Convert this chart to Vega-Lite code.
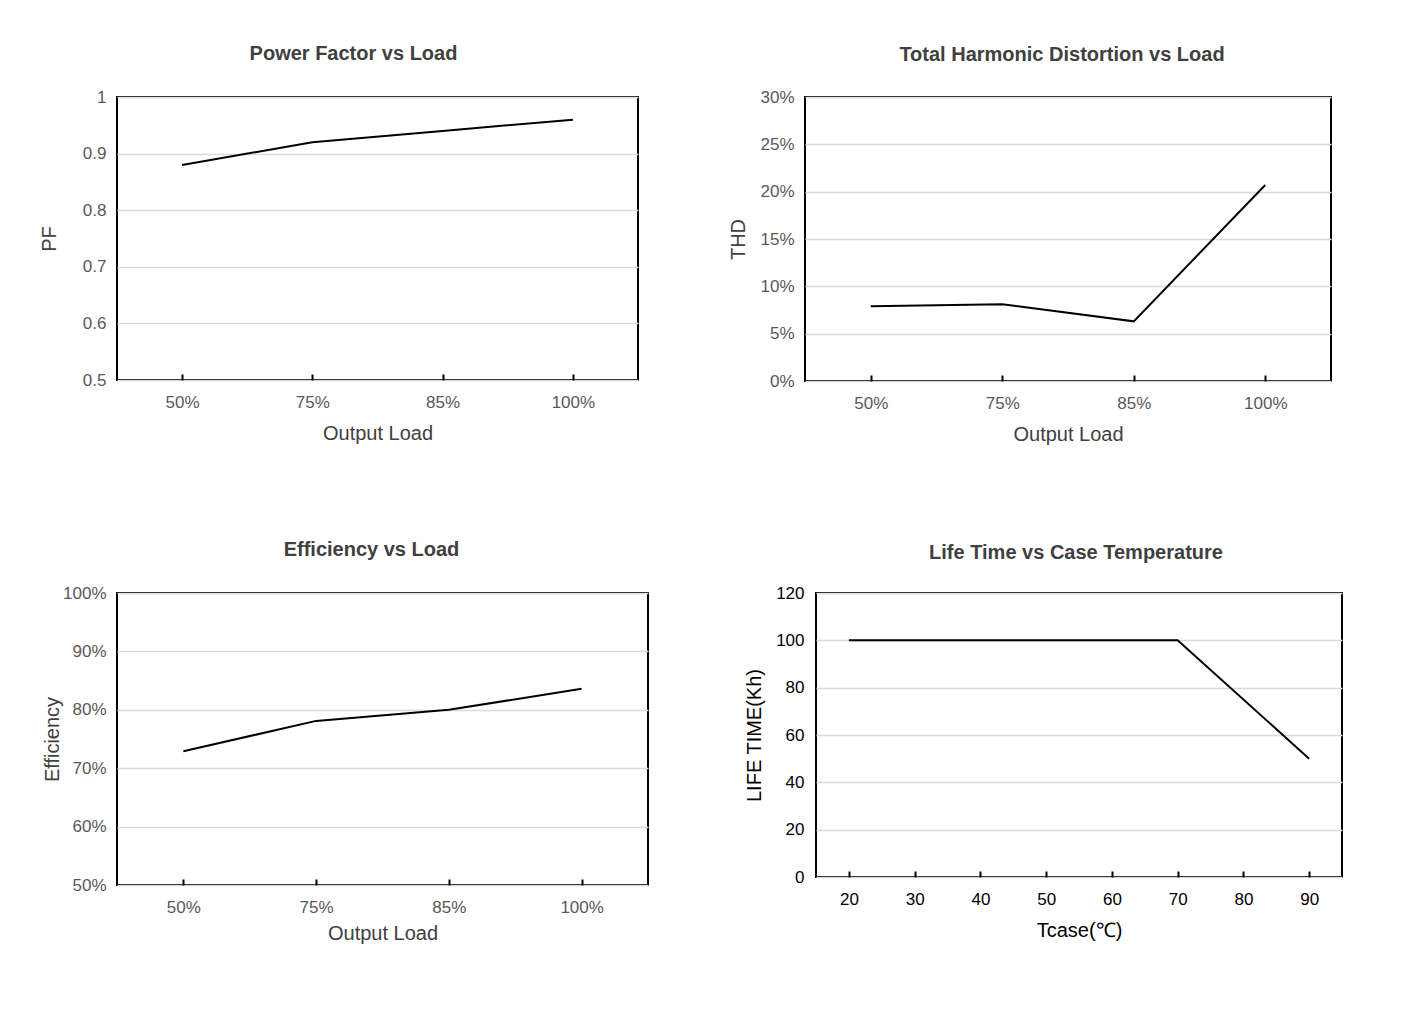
{
  "$schema": "https://vega.github.io/schema/vega-lite/v6.json",
  "padding": {"left": 38, "top": 43, "right": 10, "bottom": 10},
  "background": "white",
  "config": {
    "font": "Liberation Sans",
    "view": {"stroke": "#000", "strokeWidth": 2},
    "axis": {"labelFont": "Liberation Sans", "labelFontSize": 17, "labelColor": "#595959", "titleFont": "Liberation Sans", "titleFontSize": 20, "titleFontWeight": "normal", "titleColor": "#404040", "domain": false, "gridColor": "#d9d9d9", "gridWidth": 1.5},
    "axisX": {"grid": false, "tickColor": "#000", "tickSize": -6, "tickWidth": 2, "labelPadding": 20, "labelAngle": 0},
    "axisY": {"ticks": false, "labelPadding": 11},
    "title": {"font": "Liberation Sans", "fontSize": 20, "fontWeight": "bold", "color": "#404040", "frame": "group", "anchor": "middle"},
    "line": {"color": "#000", "strokeWidth": 2}
  },
  "datasets": {
    "pf": [{"load": "50%", "pf": 0.88}, {"load": "75%", "pf": 0.92}, {"load": "85%", "pf": 0.94}, {"load": "100%", "pf": 0.96}],
    "thd": [{"load": "50%", "thd": 0.079}, {"load": "75%", "thd": 0.081}, {"load": "85%", "thd": 0.063}, {"load": "100%", "thd": 0.207}],
    "eff": [{"load": "50%", "eff": 0.729}, {"load": "75%", "eff": 0.781}, {"load": "85%", "eff": 0.80}, {"load": "100%", "eff": 0.836}],
    "life": [{"t": 20, "life": 100}, {"t": 70, "life": 100}, {"t": 90, "life": 50}]
  },
  "spacing": 94,
  "vconcat": [
    {
      "spacing": 88,
      "hconcat": [
        {
          "title": {"text": "Power Factor vs Load", "dx": -24, "offset": 24},
          "width": 521, "height": 283,
          "data": {"name": "pf"},
          "mark": "line",
          "encoding": {
            "x": {"field": "load", "type": "ordinal", "sort": ["50%", "75%", "85%", "100%"], "scale": {"type": "point", "padding": 0.5}, "axis": {"title": "Output Load", "titlePadding": 13}},
            "y": {"field": "pf", "type": "quantitative", "scale": {"domain": [0.5, 1], "nice": false}, "axis": {"title": "PF", "values": [0.5, 0.6, 0.7, 0.8, 0.9, 1], "format": "~g", "titlePadding": 23}}
          }
        },
        {
          "title": {"text": "Total Harmonic Distortion vs Load", "dx": -6, "offset": 23},
          "width": 526, "height": 284,
          "data": {"name": "thd"},
          "mark": "line",
          "encoding": {
            "x": {"field": "load", "type": "ordinal", "sort": ["50%", "75%", "85%", "100%"], "scale": {"type": "point", "padding": 0.5}, "axis": {"title": "Output Load", "titlePadding": 13}},
            "y": {"field": "thd", "type": "quantitative", "scale": {"domain": [0, 0.3], "nice": false}, "axis": {"title": "THD", "values": [0, 0.05, 0.1, 0.15, 0.2, 0.25, 0.3], "format": ".0%", "titlePadding": 11}}
          }
        }
      ]
    },
    {
      "spacing": 94,
      "hconcat": [
        {
          "title": {"text": "Efficiency vs Load", "dx": -11, "offset": 24},
          "width": 531, "height": 292,
          "data": {"name": "eff"},
          "mark": "line",
          "encoding": {
            "x": {"field": "load", "type": "ordinal", "sort": ["50%", "75%", "85%", "100%"], "scale": {"type": "point", "padding": 0.5}, "axis": {"title": "Output Load", "titlePadding": 8}},
            "y": {"field": "eff", "type": "quantitative", "scale": {"domain": [0.5, 1], "nice": false}, "axis": {"title": "Efficiency", "values": [0.5, 0.6, 0.7, 0.8, 0.9, 1], "format": ".0%", "titlePadding": 0}}
          }
        },
        {
          "title": {"text": "Life Time vs Case Temperature", "dx": -3, "offset": 21},
          "width": 526, "height": 284,
          "data": {"name": "life"},
          "mark": "line",
          "encoding": {
            "x": {"field": "t", "type": "quantitative", "scale": {"domain": [15, 95], "nice": false, "zero": false}, "axis": {"title": "Tcase(℃)", "values": [20, 30, 40, 50, 60, 70, 80, 90], "labelColor": "#000", "titleColor": "#000", "titlePadding": 13}},
            "y": {"field": "life", "type": "quantitative", "scale": {"domain": [0, 120], "nice": false}, "axis": {"title": "LIFE TIME(Kh)", "values": [0, 20, 40, 60, 80, 100, 120], "labelColor": "#000", "titleColor": "#000", "labelPadding": 12, "titlePadding": 11}}
          }
        }
      ]
    }
  ]
}
